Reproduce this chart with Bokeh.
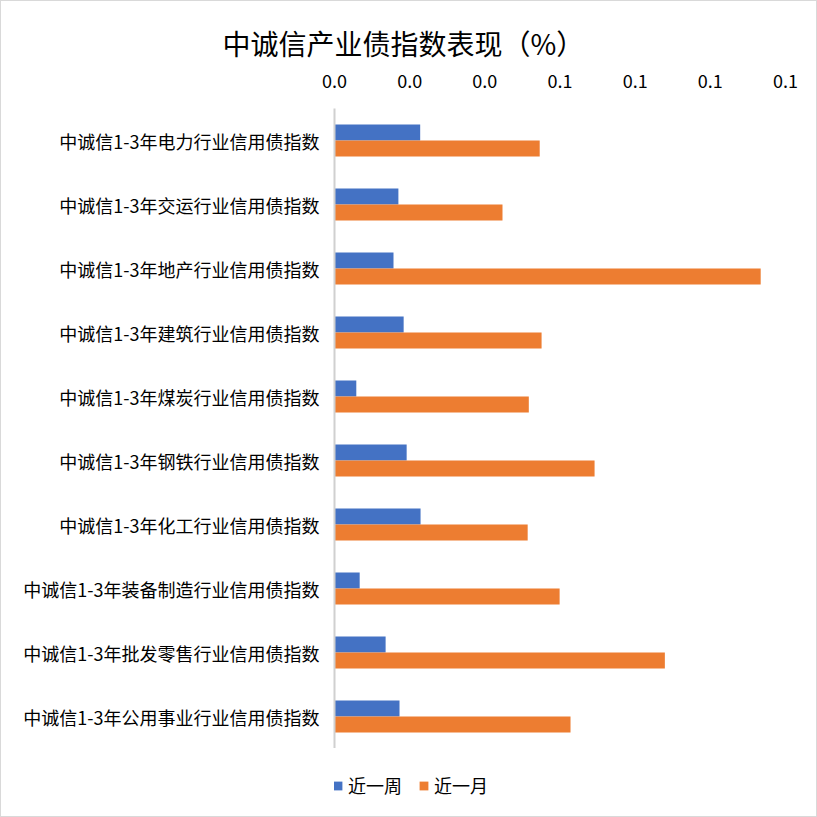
from bokeh.plotting import figure
from bokeh.layouts import column
from bokeh.models import ColumnDataSource, FactorRange, Legend, LegendItem, NumeralTickFormatter, FixedTicker
from bokeh.transform import dodge
from bokeh.embed import file_html
from bokeh.resources import INLINE

categories = [
    "中诚信1-3年电力行业信用债指数",
    "中诚信1-3年交运行业信用债指数",
    "中诚信1-3年地产行业信用债指数",
    "中诚信1-3年建筑行业信用债指数",
    "中诚信1-3年煤炭行业信用债指数",
    "中诚信1-3年钢铁行业信用债指数",
    "中诚信1-3年化工行业信用债指数",
    "中诚信1-3年装备制造行业信用债指数",
    "中诚信1-3年批发零售行业信用债指数",
    "中诚信1-3年公用事业行业信用债指数",
]
week = [0.0228, 0.0170, 0.0157, 0.0184, 0.0058, 0.0192, 0.0229, 0.0067, 0.0136, 0.0173]
month = [0.0546, 0.0447, 0.1134, 0.0551, 0.0517, 0.0692, 0.0514, 0.0599, 0.0879, 0.0628]
series_names = ["近一周", "近一月"]
series_colors = ["#4472C4", "#ED7D31"]
ticks = [0, 0.02, 0.04, 0.06, 0.08, 0.10, 0.12]

FONT = "Noto Sans CJK SC"
src = ColumnDataSource(dict(cat=categories, week=week, month=month))

p = figure(
    width=815, height=747,
    y_range=FactorRange(*list(reversed(categories)), range_padding=0),
    x_range=(0, 0.12),
    x_axis_location="above",
    output_backend="svg", toolbar_location=None,
    title="中诚信产业债指数表现（%）",
    min_border_left=333, min_border_right=31, min_border_top=107, min_border_bottom=0,
)

p.hbar(y=dodge("cat", 0.125, range=p.y_range), right="week", left=0, height=0.25,
       source=src, fill_color=series_colors[0], line_color=None)
p.hbar(y=dodge("cat", -0.125, range=p.y_range), right="month", left=0, height=0.25,
       source=src, fill_color=series_colors[1], line_color=None)

p.title.text_font = FONT
p.title.text_font_size = "28px"
p.title.text_font_style = "normal"
p.title.text_color = "#000000"
p.title.align = "left"
p.title.offset = -112
p.title.standoff = 16

p.xaxis.ticker = FixedTicker(ticks=ticks)
p.xaxis.formatter = NumeralTickFormatter(format="0.0")
p.xaxis.axis_line_color = None
p.xaxis.major_tick_line_color = None
p.xaxis.minor_tick_line_color = None
p.xaxis.major_label_text_font = FONT
p.xaxis.major_label_text_font_size = "18px"
p.xaxis.major_label_text_color = "#000000"
p.xaxis.major_label_standoff = 15

p.yaxis.axis_line_color = "#d0d0d0"
p.yaxis.axis_line_width = 2
p.yaxis.major_tick_line_color = None
p.yaxis.minor_tick_line_color = None
p.yaxis.major_label_text_font = FONT
p.yaxis.major_label_text_font_size = "18px"
p.yaxis.major_label_text_color = "#000000"
p.yaxis.major_label_standoff = 9

p.xgrid.grid_line_color = None
p.ygrid.grid_line_color = None
p.outline_line_color = None

# legend strip below the chart (its frame is aligned with the chart frame)
p2 = figure(width=815, height=68, x_range=(0, 1), y_range=(0, 1),
            x_axis_type=None, y_axis_type=None,
            output_backend="svg", toolbar_location=None,
            min_border_left=333, min_border_right=31, min_border_top=0, min_border_bottom=0)
p2.grid.grid_line_color = None
p2.outline_line_color = None
# legend-only renderers, kept outside the visible range
lr1 = p2.hbar(y=[-5], left=[-5], right=[-4], height=0.25, fill_color=series_colors[0], line_color=None)
lr2 = p2.hbar(y=[-5], left=[-5], right=[-4], height=0.25, fill_color=series_colors[1], line_color=None)

legend = Legend(items=[LegendItem(label=series_names[0], renderers=[lr1]),
                       LegendItem(label=series_names[1], renderers=[lr2])],
                orientation="horizontal", location=(-2, 18))
legend.label_text_font = FONT
legend.label_text_font_size = "18px"
legend.label_text_color = "#000000"
legend.glyph_width = 11
legend.glyph_height = 11
legend.border_line_color = None
legend.background_fill_alpha = 0
legend.spacing = 16
legend.label_standoff = 5
legend.padding = 0
legend.margin = 0
p2.add_layout(legend)

layout = column(p, p2, spacing=0, styles={"border": "1px solid #d9d9d9"})

open("out.html", "w").write(file_html(layout, INLINE))
